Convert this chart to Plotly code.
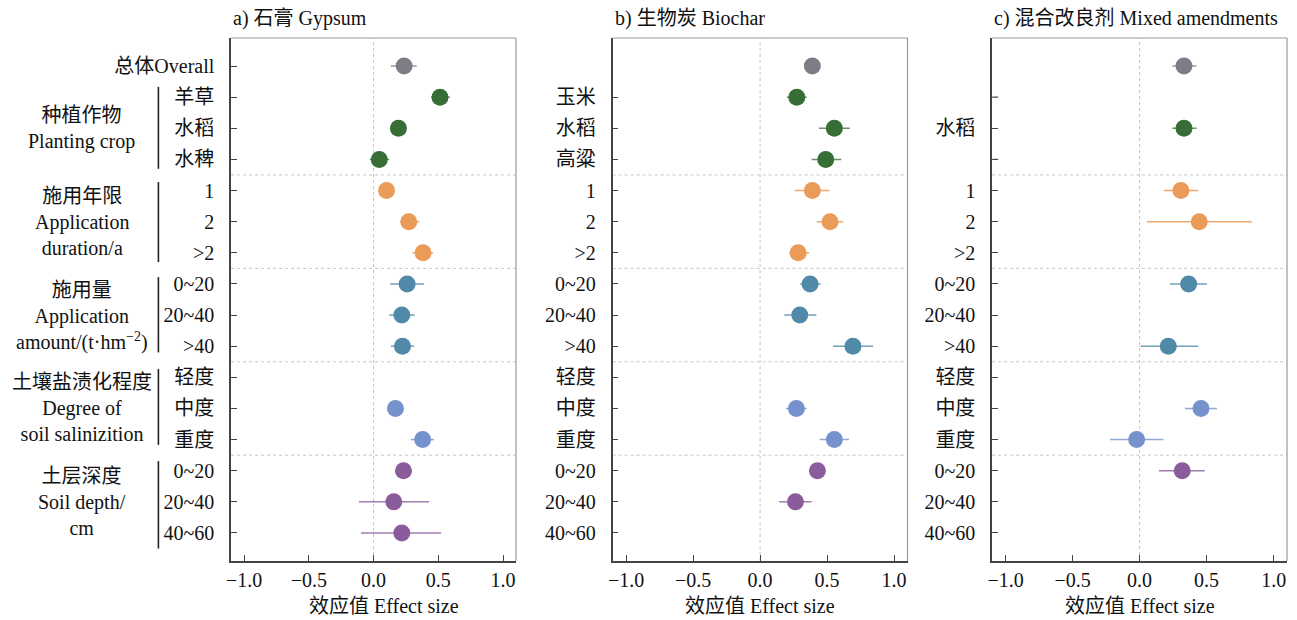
import plotly.graph_objects as go

# ---------------- data ----------------
row_labels_a = ["总体Overall", "羊草", "水稻", "水稗", "1", "2", ">2",
                "0~20", "20~40", ">40", "轻度", "中度", "重度",
                "0~20", "20~40", "40~60"]
row_labels_b = [None, "玉米", "水稻", "高粱", "1", "2", ">2",
                "0~20", "20~40", ">40", "轻度", "中度", "重度",
                "0~20", "20~40", "40~60"]
row_labels_c = [None, None, "水稻", None, "1", "2", ">2",
                "0~20", "20~40", ">40", "轻度", "中度", "重度",
                "0~20", "20~40", "40~60"]
# rows that carry a tick mark (even without label)
tick_rows_a = list(range(16))
tick_rows_b = list(range(1, 16))
tick_rows_c = list(range(1, 16))
row_group = [0, 1, 1, 1, 2, 2, 2, 3, 3, 3, 4, 4, 4, 5, 5, 5]

group_labels = [
    "种植作物<br>Planting crop",
    "施用年限<br>Application<br>duration/a",
    "施用量<br>Application<br>amount/(t·hm<sup>−2</sup>)",
    "土壤盐渍化程度<br>Degree of<br>soil salinizition",
    "土层深度<br>Soil depth/<br>cm",
]

panel_titles = ["a) 石膏 Gypsum", "b) 生物炭 Biochar", "c) 混合改良剂 Mixed amendments"]
x_title = "效应值 Effect size"
x_ticks = [-1.0, -0.5, 0.0, 0.5, 1.0]
x_ticktext = ["−1.0", "−0.5", "0.0", "0.5", "1.0"]

gypsum_mean = [0.236, 0.513, 0.192, 0.044, 0.100, 0.272, 0.382, 0.259, 0.218, 0.223, None, 0.169, 0.379, 0.231, 0.156, 0.218]
gypsum_lo   = [0.133, 0.444, 0.150, -0.030, 0.070, 0.205, 0.300, 0.128, 0.120, 0.133, None, 0.130, 0.287, 0.190, -0.113, -0.097]
gypsum_hi   = [0.333, 0.590, 0.230, 0.120, 0.130, 0.354, 0.460, 0.390, 0.318, 0.313, None, 0.210, 0.467, 0.270, 0.428, 0.521]

biochar_mean = [0.390, 0.274, 0.554, 0.490, 0.390, 0.522, 0.284, 0.373, 0.296, 0.693, None, 0.271, 0.554, 0.428, 0.264, None]
biochar_lo   = [0.360, 0.200, 0.440, 0.385, 0.259, 0.422, 0.217, 0.299, 0.180, 0.544, None, 0.192, 0.445, 0.400, 0.143, None]
biochar_hi   = [0.420, 0.348, 0.670, 0.606, 0.519, 0.621, 0.366, 0.452, 0.420, 0.844, None, 0.348, 0.663, 0.460, 0.385, None]

mixed_mean = [0.331, None, 0.331, None, 0.308, 0.445, None, 0.366, None, 0.214, None, 0.458, -0.022, 0.318, None, None]
mixed_lo   = [0.244, None, 0.244, None, 0.180, 0.055, None, 0.226, None, 0.007, None, 0.338, -0.221, 0.144, None, None]
mixed_hi   = [0.423, None, 0.425, None, 0.438, 0.836, None, 0.502, None, 0.438, None, 0.577, 0.177, 0.485, None, None]

group_colors = ["#7f7c86", "#376e35", "#eb9b58", "#508aa8", "#7592cd", "#8b5c9b"]
group_colors_light = ["rgba(127,124,134,0.8)", "rgba(55,110,53,0.75)", "rgba(235,155,88,0.85)",
                      "rgba(80,138,168,0.8)", "rgba(117,146,205,0.8)", "rgba(139,92,155,0.8)"]

# ---------------- layout geometry ----------------
W, H = 1297, 620
FONT = "'Liberation Serif', 'Noto Sans CJK SC', serif"
FS = 20
panel_px = [(227, 513), (610, 906), (991, 1287)]
y_top_px, y_bot_px = 38, 561
ydom = [1 - y_bot_px / H, 1 - y_top_px / H]
yrange = [15.9, -0.9]
xrange = [-1.1, 1.1]
TICKLEN = 6
DASH = "3px,3px"

panels = [
    (gypsum_mean, gypsum_lo, gypsum_hi, row_labels_a, tick_rows_a),
    (biochar_mean, biochar_lo, biochar_hi, row_labels_b, tick_rows_b),
    (mixed_mean, mixed_lo, mixed_hi, row_labels_c, tick_rows_c),
]

fig = go.Figure()
shapes = []
annotations = []

for p, (mean, lo, hi, labels, tickrows) in enumerate(panels):
    xa = "x" if p == 0 else f"x{p+1}"
    ya = "y" if p == 0 else f"y{p+1}"
    for g in range(6):
        xs, ys, ep, em = [], [], [], []
        for r in range(16):
            if row_group[r] == g and mean[r] is not None:
                xs.append(mean[r])
                ys.append(r)
                ep.append(hi[r] - mean[r])
                em.append(mean[r] - lo[r])
        if not xs:
            continue
        fig.add_trace(go.Scatter(
            x=xs, y=ys, mode="markers", xaxis=xa, yaxis=ya, showlegend=False,
            marker=dict(size=17, color=group_colors[g], line=dict(width=0)),
            error_x=dict(type="data", array=ep, arrayminus=em, symmetric=False,
                         color=group_colors_light[g], thickness=1.5, width=0),
            hoverinfo="x+y",
        ))
    x0, x1 = panel_px[p]
    dom = [x0 / W, x1 / W]
    axkey_x = "xaxis" if p == 0 else f"xaxis{p+1}"
    axkey_y = "yaxis" if p == 0 else f"yaxis{p+1}"
    labelled = [r for r in tickrows if labels[r] is not None]
    unlabelled = [r for r in tickrows if labels[r] is None]
    fig.layout[axkey_x] = dict(
        domain=dom, range=xrange, anchor=ya, tickvals=x_ticks, ticktext=x_ticktext,
        ticks="inside", ticklen=TICKLEN, tickwidth=1.2, tickcolor="#444",
        showline=True, linecolor="#444", linewidth=1.6, showgrid=False, zeroline=False,
        tickfont=dict(family=FONT, size=FS, color="#111"), ticklabelstandoff=0,
    )
    fig.layout[axkey_y] = dict(
        domain=ydom, range=yrange, anchor=xa,
        tickvals=labelled, ticktext=[labels[r] for r in labelled],
        ticks="inside", ticklen=TICKLEN, tickwidth=1.2, tickcolor="#444",
        showline=True, linecolor="#444", linewidth=1.6, showgrid=False, zeroline=False,
        tickfont=dict(family=FONT, size=FS, color="#111"), ticklabelstandoff=11,
    )
    # tick marks for rows without a label
    for r in unlabelled:
        shapes.append(dict(type="line", xref=f"{xa} domain", yref=ya,
                           x0=0, x1=TICKLEN / (x1 - x0), y0=r, y1=r,
                           line=dict(color="#444", width=1.2)))
    # top/right light border
    shapes.append(dict(type="line", xref=f"{xa} domain", yref=f"{ya} domain",
                       x0=0, x1=1, y0=1, y1=1, line=dict(color="#9a9a9a", width=1.2)))
    shapes.append(dict(type="line", xref=f"{xa} domain", yref=f"{ya} domain",
                       x0=1, x1=1, y0=0, y1=1, line=dict(color="#9a9a9a", width=1.2)))
    # zero dashed line
    shapes.append(dict(type="line", xref=xa, yref=f"{ya} domain",
                       x0=0, x1=0, y0=0, y1=1, layer="below",
                       line=dict(color="#c4c4c4", width=1, dash=DASH)))
    # group separators
    for sep in [3.5, 6.5, 9.5, 12.5]:
        shapes.append(dict(type="line", xref=f"{xa} domain", yref=ya,
                           x0=0, x1=1, y0=sep, y1=sep, layer="below",
                           line=dict(color="#c4c4c4", width=1, dash=DASH)))
    # panel title
    annotations.append(dict(text=panel_titles[p], xref="paper", yref="paper",
                            x=x0 / W, y=1 - 18 / H, xanchor="left", yanchor="middle",
                            showarrow=False, font=dict(family=FONT, size=FS, color="#111")))
    # x title
    xc = (x0 + x1) / 2 + (10 if p == 0 else 0)
    annotations.append(dict(text=x_title, xref="paper", yref="paper",
                            x=xc / W, y=1 - 606 / H, xanchor="center", yanchor="middle",
                            showarrow=False, font=dict(family=FONT, size=FS, color="#111")))

# group labels and bars at left of panel a
group_spans = [(0.67, 3.3), (3.73, 6.3), (6.78, 9.2), (9.73, 12.17), (12.69, 15.5)]
group_centers = [2.0, 5.0, 8.05, 11.0, 14.0]
for gl, (s0, s1), gc in zip(group_labels, group_spans, group_centers):
    shapes.append(dict(type="line", xref="paper", yref="y", x0=154 / W, x1=154 / W,
                       y0=s0, y1=s1, line=dict(color="#222", width=1.6)))
    annotations.append(dict(text=gl, xref="paper", yref="y", x=77 / W, y=gc,
                            xanchor="center", yanchor="middle", align="center",
                            showarrow=False, font=dict(family=FONT, size=FS, color="#111")))

fig.update_layout(
    width=W, height=H, margin=dict(l=0, r=0, t=0, b=0),
    paper_bgcolor="white", plot_bgcolor="white",
    shapes=shapes, annotations=annotations, showlegend=False,
    font=dict(family=FONT, size=FS, color="#111"),
)

fig.write_html("out.html")
